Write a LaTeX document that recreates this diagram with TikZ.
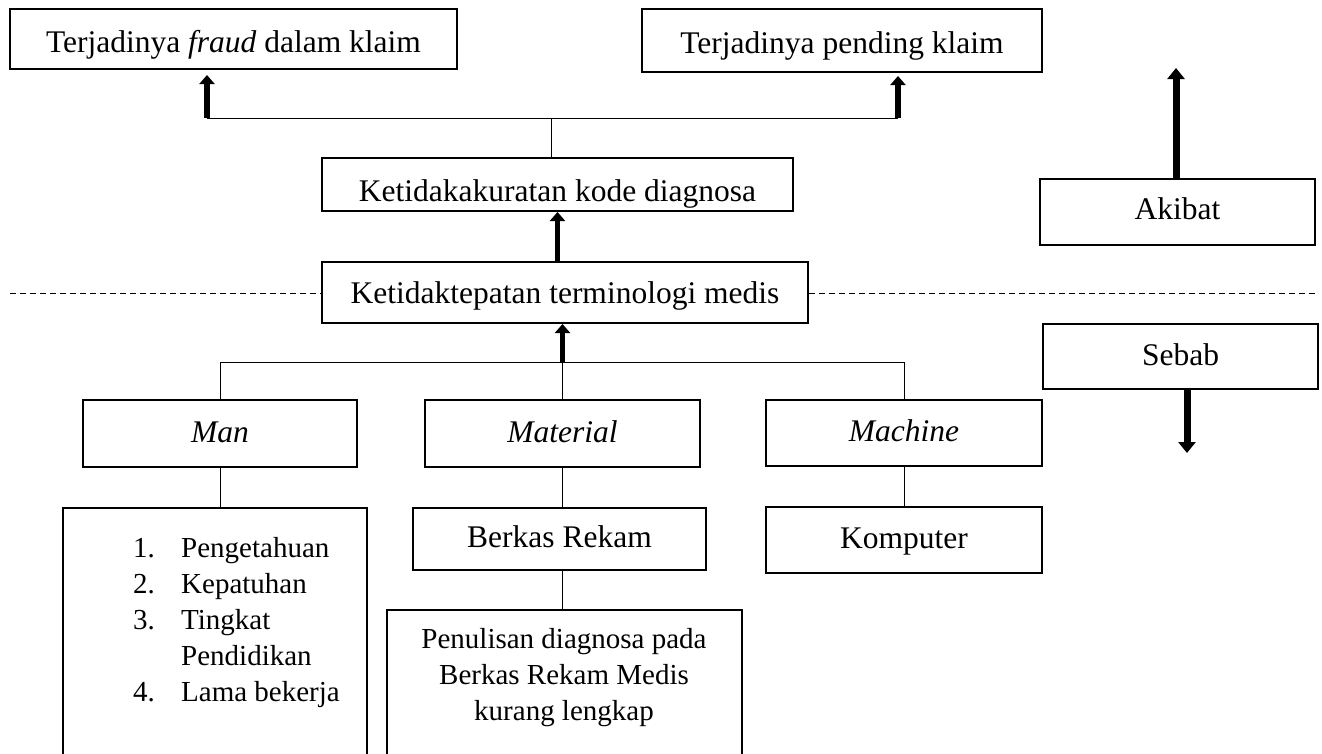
\documentclass[tikz,border=0pt]{standalone}
\usepackage{fontspec}
\setmainfont{Liberation Serif}
\usetikzlibrary{arrows.meta,calc}
\begin{document}
\begin{tikzpicture}[x=1pt,y=-1pt,
  box/.style={draw, line width=2pt, fill=white, inner sep=0pt, text height=22pt, text depth=5pt, font=\fontsize{31.5}{36.2}\selectfont},
  conn/.style={line width=1pt},
  bigarrow/.style={line width=5.5pt, -{Triangle[width=15pt,length=9pt]}},
  sidearrow/.style={line width=7pt, -{Triangle[width=17pt,length=11pt]}},
  dashline/.style={line width=1pt, dash pattern=on 6pt off 4pt},
  txt/.style={inner sep=0pt, font=\fontsize{29}{36.2}\selectfont}]
\useasboundingbox (0,0) rectangle (1322,753);
\clip (0,0) rectangle (1322,753);

% boxes
\node[box, minimum width=447pt, minimum height=60pt, text height=31pt] (fraud) at (233.5,39) {Terjadinya \textit{fraud} dalam klaim};
\node[box, minimum width=400pt, minimum height=63pt, text height=30pt] (pending) at (842,40.5) {Terjadinya pending klaim};
\node[box, minimum width=471pt, minimum height=53pt, text height=33pt, text depth=0pt] (kode) at (557.5,184.5) {Ketidakakuratan kode diagnosa};
\node[box, minimum width=486pt, minimum height=61pt, text height=26pt] (term) at (565,292.5) {Ketidaktepatan terminologi medis};
\node[box, minimum width=275pt, minimum height=66pt, text height=19pt] (akibat) at (1177.5,212) {Akibat};
\node[box, minimum width=275pt, minimum height=65pt] (sebab) at (1180.5,356.5) {Sebab};
\node[box, minimum width=274pt, minimum height=67pt] (man) at (220,433.5) {\textit{Man}};
\node[box, minimum width=275pt, minimum height=67pt] (material) at (562.5,433.5) {\textit{Material}};
\node[box, minimum width=276pt, minimum height=66pt] (machine) at (904,433) {\textit{Machine}};
\node[box, minimum width=304pt, minimum height=260pt, anchor=north] (manlist) at (215,507) {};
\node[box, minimum width=293pt, minimum height=62pt] (berkas) at (559.5,539) {Berkas Rekam};
\node[box, minimum width=355pt, minimum height=260pt, anchor=north] (penulisan) at (564.5,609) {};
\node[box, minimum width=276pt, minimum height=66pt] (komputer) at (904,540) {Komputer};

% texts inside tall boxes
\node[txt, anchor=base west] (manitems) at (133,557) {\begin{tabular}[t]{@{}p{48pt}@{}l@{}}1.&Pengetahuan\\2.&Kepatuhan\\3.&Tingkat\\&Pendidikan\\4.&Lama bekerja\end{tabular}};
\node[txt, anchor=base] (penulisantext) at (564,648) {\begin{tabular}[t]{@{}c@{}}Penulisan diagnosa pada\\Berkas Rekam Medis\\kurang lengkap\end{tabular}};

% top connectors
\coordinate (tj) at (551,118);
\coordinate (tl) at (207,118);
\coordinate (tr) at (898,118);
\draw[conn] (kode.north -| tj) -- (tj);
\draw[conn] (tl) -- (tr);
\draw[bigarrow] (tl) -- ($(fraud.south -| tl)+(0,5)$);
\draw[bigarrow] (tr) -- ($(pending.south -| tr)+(0,3)$);
\draw[bigarrow] (kode.south |- term.north) -- (kode.south);

% branch
\coordinate (bj) at (562,362);
\draw[conn] (man.north) -- (man.north |- bj) -- (machine.north |- bj) -- (machine.north);
\draw[conn] (material.north) -- (material.north |- bj);
\draw[bigarrow] (material.north |- bj) -- (material.north |- term.south);
\draw[conn] (man.south) -- (man.south |- manlist.north);
\draw[conn] (material.south) -- (material.south |- berkas.north);
\draw[conn] (material.south |- berkas.south) -- (material.south |- penulisan.north);
\draw[conn] (machine.south) -- (komputer.north);

% side arrows
\coordinate (akibattip) at (1176,68);
\coordinate (sebabtip) at (1187,453);
\draw[sidearrow] (akibat.north -| akibattip) -- (akibattip);
\draw[sidearrow] (sebab.south -| sebabtip) -- (sebabtip);

% dashed divider
\coordinate (dl) at (10,293);
\coordinate (dr) at (1315,293);
\draw[dashline] (dl) -- (term.west |- dl);
\draw[dashline] (term.east |- dl) -- (dr);
\end{tikzpicture}
\end{document}
